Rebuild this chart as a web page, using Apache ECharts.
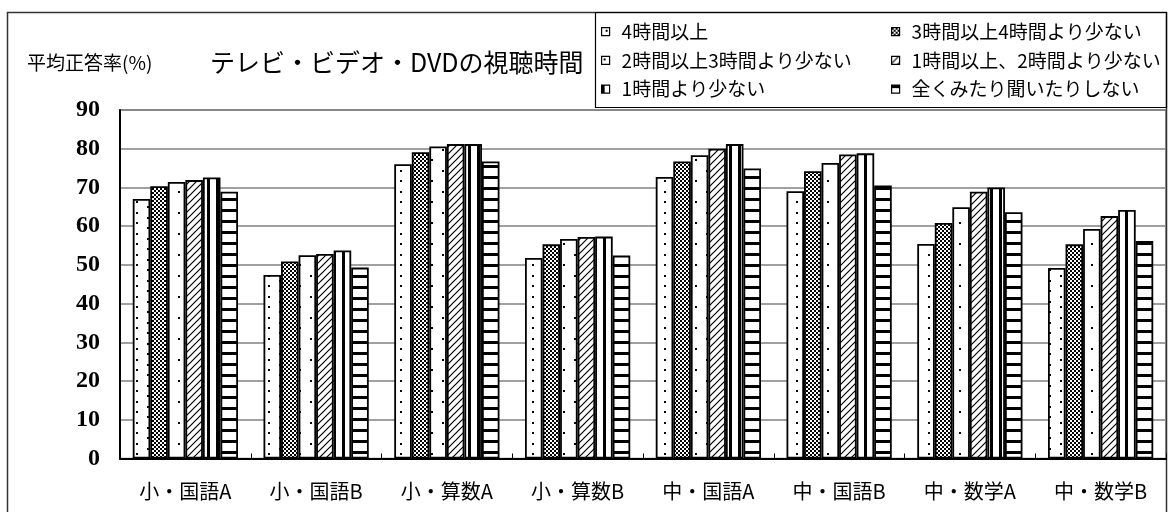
<!DOCTYPE html>
<html>
<head>
<meta charset="utf-8">
<script src="https://cdn.jsdelivr.net/npm/echarts@6/dist/echarts.min.js"></script>
<style>html,body{margin:0;padding:0;background:#fff}#c{width:1169px;height:512px}</style>
</head>
<body>
<div id="c"></div>
<script>
const categories = ['小・国語A','小・国語B','小・算数A','小・算数B','中・国語A','中・国語B','中・数学A','中・数学B'];
const seriesNames = ['4時間以上','3時間以上4時間より少ない','2時間以上3時間より少ない','1時間以上、2時間より少ない','1時間より少ない','全くみたり聞いたりしない'];
const h4plus   = [67.0, 47.4, 76.0, 51.8, 72.7, 69.0, 55.4, 49.2];
const h3to4    = [70.3, 50.9, 79.1, 55.3, 76.7, 74.2, 60.8, 55.3];
const h2to3    = [71.4, 52.5, 80.6, 56.7, 78.3, 76.3, 64.9, 59.3];
const h1to2    = [71.9, 52.8, 81.2, 57.2, 80.0, 78.5, 68.9, 62.6];
const hLess1   = [72.6, 53.7, 81.2, 57.3, 81.2, 78.8, 70.0, 64.2];
const hNone    = [68.9, 49.3, 76.7, 52.4, 74.9, 70.5, 63.6, 56.2];
const yTicks = {min: 0, max: 90, interval: 10};

function pat(w, h, draw) {
  const c = document.createElement('canvas');
  c.width = w; c.height = h;
  const g = c.getContext('2d');
  g.fillStyle = '#fff'; g.fillRect(0, 0, w, h);
  g.fillStyle = '#000'; g.strokeStyle = '#000';
  draw(g);
  return {image: c, repeat: 'repeat'};
}
const patterns = [
  pat(22, 21, g => { g.fillRect(4,2,2,2); g.fillRect(4,12,2,2); g.fillRect(15,7,2,2); g.fillRect(15,17,2,2); }),
  pat(4, 4, g => { g.fillRect(0,0,2,2); g.fillRect(2,2,2,2); }),
  pat(22, 21, g => { g.fillRect(2,2,2,2); g.fillRect(13,12,2,2); }),
  pat(7, 7, g => { g.lineWidth = 1.2; g.beginPath(); g.moveTo(0,7); g.lineTo(7,0); g.moveTo(-1,1); g.lineTo(1,-1); g.moveTo(6,8); g.lineTo(8,6); g.stroke(); }),
  pat(9, 4, g => { g.fillRect(0,0,3,4); }),
  pat(4, 11, g => { g.fillRect(0,0,4,3); })
];
const dataSets = [h4plus, h3to4, h2to3, h1to2, hLess1, hNone];
const JP = '"Noto Sans CJK JP", sans-serif';

const chart = echarts.init(document.getElementById('c'));
const legendBase = {
  orient: 'vertical', top: 22.2, padding: 0, itemWidth: 8, itemHeight: 8, itemGap: 9.7, icon: 'rect',
  textStyle: {fontSize: 19, lineHeight: 19, fontFamily: JP, color: '#000', padding: [0,0,0,7]},
  itemStyle: {borderColor: '#000', borderWidth: 1.2}
};
chart.setOption({
  animation: false,
  backgroundColor: '#fff',
  grid: {left: 120, right: 3, top: 110, bottom: 53.5, show: true, borderColor: '#808080', borderWidth: 1.5},
  legend: [
    Object.assign({}, legendBase, {left: 601, data: [seriesNames[0], seriesNames[2], seriesNames[4]]}),
    Object.assign({}, legendBase, {left: 891, data: [seriesNames[1], seriesNames[3], seriesNames[5]]})
  ],
  xAxis: {
    type: 'category', data: categories,
    axisLine: {lineStyle: {color: '#000', width: 2}},
    axisTick: {show: true, inside: true, length: 5, lineStyle: {color: '#000'}},
    axisLabel: {fontSize: 20, fontFamily: JP, color: '#000', margin: 23}
  },
  yAxis: {
    type: 'value', min: yTicks.min, max: yTicks.max, interval: yTicks.interval,
    axisLine: {show: true, lineStyle: {color: '#000', width: 2}},
    axisTick: {show: false},
    splitLine: {lineStyle: {color: '#808080', width: 1.5}},
    axisLabel: {fontSize: 24, fontWeight: 'bold', fontFamily: '"Liberation Serif", serif', color: '#000', margin: 20, padding: [6,0,0,0]}
  },
  series: dataSets.map((d, i) => ({
    name: seriesNames[i], type: 'bar', data: d,
    barGap: '0%', barCategoryGap: '19.5%',
    itemStyle: {color: patterns[i], borderColor: '#000', borderWidth: 1.8}
  })),
  graphic: [
    {type: 'rect', shape: {x: 7.5, y: 12.5, width: 1159, height: 520}, style: {fill: 'none', stroke: '#333', lineWidth: 1.5}, silent: true},
    {type: 'rect', shape: {x: 595.5, y: 12.5, width: 571, height: 95}, style: {fill: 'none', stroke: '#000', lineWidth: 1.2}, silent: true},
    {type: 'text', x: 27, y: 63, style: {text: '平均正答率(%)', font: '19px ' + JP, fill: '#000', textVerticalAlign: 'middle'}},
    {type: 'text', x: 210, y: 62, style: {text: 'テレビ・ビデオ・DVDの視聴時間', font: '25px ' + JP, fill: '#000', textVerticalAlign: 'middle'}}
  ]
});
</script>
</body>
</html>
